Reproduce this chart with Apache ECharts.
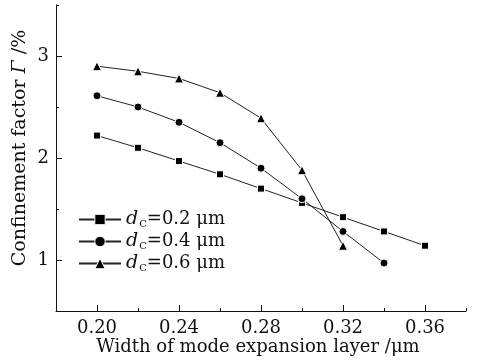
<!DOCTYPE html>
<html>
<head>
<meta charset="utf-8">
<script src="https://cdn.jsdelivr.net/npm/echarts@6/dist/echarts.min.js"></script>
<style>
  html, body { margin: 0; padding: 0; background: #fff; }
  #chart { width: 481px; height: 364px; }
</style>
</head>
<body>
<div id="chart"></div>
<script>
// data
const widths = [0.20, 0.22, 0.24, 0.26, 0.28, 0.30, 0.32, 0.34, 0.36];
const gammaD02 = [2.22, 2.10, 1.97, 1.84, 1.70, 1.56, 1.42, 1.28, 1.14];
const gammaD04 = [2.61, 2.50, 2.35, 2.15, 1.90, 1.60, 1.28, 0.97];
const gammaD06 = [2.90, 2.85, 2.78, 2.64, 2.39, 1.88, 1.14];
const xMajorTicks = [0.20, 0.24, 0.28, 0.32, 0.36];
const yMajorTicks = [1, 2, 3];

const FONT = "DejaVu Serif";
const INK = "#111";

function pairs(ys) {
  return ys.map((y, i) => [widths[i], y]);
}

const seriesDefs = [
  { name: "d02", label: "0.2", data: gammaD02, symbol: "rect", size: 7 },
  { name: "d04", label: "0.4", data: gammaD04, symbol: "circle", size: 8 },
  { name: "d06", label: "0.6", data: gammaD06, symbol: "triangle", size: 9 }
];

const chart = echarts.init(document.getElementById("chart"));

chart.setOption({
  animation: false,
  backgroundColor: "#fff",
  grid: { left: 56, top: 5, right: 15, bottom: 53 },
  legend: {
    orient: "vertical",
    left: 73,
    top: 205,
    itemWidth: 42,
    itemHeight: 13,
    itemGap: 3,
    itemStyle: { borderWidth: 1, borderColor: "#fff" },
    data: seriesDefs.map(s => s.name),
    formatter: name => {
      const s = seriesDefs.find(d => d.name === name);
      return "{d|d}{s|C}{t|=" + s.label + " μm}";
    },
    textStyle: {
      color: INK,
      fontFamily: FONT,
      rich: {
        d: { fontFamily: FONT, fontSize: 19, fontStyle: "italic", color: INK },
        s: { fontFamily: FONT, fontSize: 10, color: INK, padding: [9, 0, 0, 1] },
        t: { fontFamily: FONT, fontSize: 18, color: INK }
      }
    }
  },
  xAxis: [
    {
      type: "value",
      min: 0.18,
      max: 0.38,
      interval: 0.02,
      axisLine: { lineStyle: { color: INK, width: 1 } },
      axisTick: { inside: true, length: 3, lineStyle: { color: INK } },
      axisLabel: { show: false },
      splitLine: { show: false },
      name: "Width of mode expansion layer /μm",
      nameLocation: "middle",
      nameGap: 27,
      nameTextStyle: { fontFamily: FONT, fontSize: 18, color: INK, padding: [0, 6, 0, 0] }
    },
    {
      type: "value",
      min: 0.18,
      max: 0.38,
      position: "bottom",
      axisLine: { show: false },
      axisTick: { inside: true, length: 6, customValues: xMajorTicks, lineStyle: { color: INK } },
      axisLabel: {
        customValues: xMajorTicks,
        formatter: v => v.toFixed(2),
        margin: 8,
        fontFamily: FONT,
        fontSize: 18,
        color: INK
      },
      splitLine: { show: false }
    }
  ],
  yAxis: [
    {
      type: "value",
      min: 0.5,
      max: 3.5,
      interval: 0.5,
      axisLine: { show: true, lineStyle: { color: INK, width: 1 } },
      axisTick: { show: true, inside: true, length: 3, lineStyle: { color: INK } },
      axisLabel: { show: false },
      splitLine: { show: false },
      name: "Confinement factor {i|Γ} /%",
      nameLocation: "middle",
      nameRotate: 90,
      nameGap: 26,
      nameTextStyle: {
        fontFamily: FONT,
        fontSize: 19,
        color: INK,
        padding: [0, 0, 0, 20],
        rich: { i: { fontFamily: FONT, fontSize: 19, fontStyle: "italic", color: INK } }
      }
    },
    {
      type: "value",
      min: 0.5,
      max: 3.5,
      position: "left",
      axisLine: { show: false },
      axisTick: { show: true, inside: true, length: 6, customValues: yMajorTicks, lineStyle: { color: INK } },
      axisLabel: {
        customValues: yMajorTicks,
        margin: 7,
        fontFamily: FONT,
        fontSize: 18,
        color: INK
      },
      splitLine: { show: false }
    }
  ],
  series: seriesDefs.map(s => ({
    name: s.name,
    type: "line",
    xAxisIndex: 0,
    yAxisIndex: 0,
    data: pairs(s.data),
    symbol: s.symbol,
    symbolSize: s.size,
    lineStyle: { color: "#222", width: 1 },
    itemStyle: { color: "#000", borderColor: "#fff", borderWidth: 1 }
  }))
});
</script>
</body>
</html>
